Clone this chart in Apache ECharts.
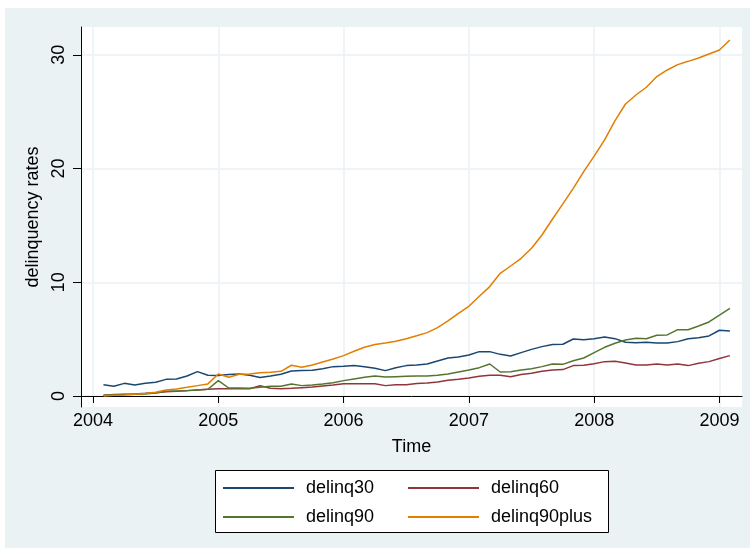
<!DOCTYPE html>
<html>
<head>
<meta charset="utf-8">
<script src="https://cdn.jsdelivr.net/npm/echarts@6/dist/echarts.min.js"></script>
<style>
  html, body { margin: 0; padding: 0; background: #fff; }
  #chart { position: absolute; left: 5px; top: 8px; width: 745px; height: 540px; background: #eaf2f3; }
</style>
</head>
<body>
<div id="chart"></div>
<script>
// monthly series, 2004m2 .. 2009m2
const startYear = 2004;
const startMonth = 2;
const yearTicks = [2004, 2005, 2006, 2007, 2008, 2009];
const rateTicks = [0, 10, 20, 30];

const delinq30 = [
  0.99, 0.85, 1.11, 0.97, 1.11, 1.2, 1.46, 1.49, 1.76, 2.14, 1.82, 1.79,
  1.88, 1.93, 1.82, 1.62, 1.76, 1.91, 2.2, 2.23, 2.26, 2.4, 2.58, 2.61,
  2.67, 2.58, 2.43, 2.23, 2.49, 2.67, 2.73, 2.81, 3.08, 3.34, 3.43, 3.61,
  3.9, 3.9, 3.66, 3.52, 3.81, 4.1, 4.34, 4.52, 4.55, 5.01, 4.95, 5.04,
  5.19, 5.04, 4.72, 4.69, 4.72, 4.66, 4.66, 4.78, 5.04, 5.13, 5.28, 5.78,
  5.72
];
const delinq60 = [
  0.06, 0.12, 0.15, 0.18, 0.23, 0.29, 0.38, 0.41, 0.47, 0.53, 0.59, 0.64,
  0.64, 0.64, 0.64, 0.9, 0.67, 0.64, 0.67, 0.73, 0.79, 0.88, 0.97, 1.08,
  1.08, 1.08, 1.08, 0.91, 0.99, 0.99, 1.1, 1.14, 1.23, 1.38, 1.47, 1.58,
  1.73, 1.82, 1.82, 1.7, 1.88, 2.0, 2.17, 2.29, 2.32, 2.67, 2.7, 2.84,
  3.02, 3.05, 2.9, 2.73, 2.73, 2.81, 2.73, 2.81, 2.67, 2.87, 3.02, 3.3,
  3.55
];
const delinq90 = [
  0.06, 0.09, 0.12, 0.15, 0.18, 0.26, 0.41, 0.44, 0.47, 0.53, 0.59, 1.35,
  0.7, 0.7, 0.67, 0.76, 0.85, 0.85, 1.06, 0.91, 0.97, 1.06, 1.17, 1.35,
  1.5, 1.64, 1.76, 1.67, 1.7, 1.73, 1.76, 1.76, 1.82, 1.93, 2.11, 2.29,
  2.49, 2.81, 2.11, 2.14, 2.29, 2.4, 2.58, 2.81, 2.78, 3.1, 3.34, 3.81,
  4.28, 4.63, 4.93, 5.07, 5.04, 5.34, 5.37, 5.83, 5.83, 6.16, 6.51, 7.12,
  7.71
];
const delinq90plus = [
  0.0, 0.06, 0.09, 0.15, 0.21, 0.32, 0.53, 0.62, 0.76, 0.91, 1.06, 1.93,
  1.64, 1.91, 1.93, 2.05, 2.08, 2.17, 2.7, 2.52, 2.73, 2.99, 3.25, 3.55,
  3.93, 4.28, 4.52, 4.66, 4.81, 5.04, 5.3, 5.57, 6.01, 6.6, 7.27, 7.89,
  8.77, 9.62, 10.79, 11.43, 12.11, 12.99, 14.16, 15.54, 16.89, 18.26, 19.73, 21.1,
  22.52, 24.22, 25.68, 26.47, 27.15, 28.09, 28.67, 29.14, 29.43, 29.73, 30.08, 30.43,
  31.31
];

const months = delinq30.map((_, i) => startYear + (startMonth - 1 + i) / 12);
const pairs = arr => months.map((t, i) => [t, arr[i]]);

const font = 'Liberation Sans, Arial, Helvetica, sans-serif';
const chart = echarts.init(document.getElementById('chart'));

function line(name, data, color) {
  return {
    name: name,
    type: 'line',
    data: pairs(data),
    symbol: 'none',
    lineStyle: { color: color, width: 1.5 },
    itemStyle: { color: color },
    animation: false
  };
}

// legend: two columns inside one white box
function legendCol(names, left) {
  return {
    data: names,
    orient: 'vertical', left: left, top: 470, padding: 0,
    icon: 'rect', itemWidth: 71, itemHeight: 2, itemGap: 9,
    selectedMode: false, z: 10,
    textStyle: { color: '#000', fontSize: 18, lineHeight: 20, fontFamily: font, padding: [0, 0, 0, 7] }
  };
}

const option = {
  animation: false,
  textStyle: { fontFamily: font },
  grid: {
    left: 76, top: 19, width: 661, height: 380,
    show: true, backgroundColor: '#fff', borderWidth: 0
  },
  xAxis: {
    type: 'value',
    min: 2003.904,
    max: 2009.18,
    name: 'Time',
    nameLocation: 'middle',
    nameGap: 31,
    nameTextStyle: { color: '#000', fontSize: 18, fontFamily: font },
    axisLine: { show: true, lineStyle: { color: '#000', width: 1 } },
    axisTick: { show: true, length: 7, lineStyle: { color: '#000' }, customValues: yearTicks },
    axisLabel: {
      color: '#000', fontSize: 18, margin: 5, fontFamily: font,
      customValues: yearTicks, formatter: v => String(v)
    },
    splitLine: { show: true, lineStyle: { color: '#eaf2f3', width: 1.5 } }
  },
  yAxis: {
    type: 'value',
    min: -0.97,
    max: 32.45,
    name: 'delinquency rates',
    nameLocation: 'middle',
    nameGap: 34,
    nameTextStyle: { color: '#000', fontSize: 18, fontFamily: font },
    axisLine: { show: true, lineStyle: { color: '#000', width: 1 } },
    axisTick: { show: true, length: 8, lineStyle: { color: '#000' }, customValues: rateTicks },
    axisLabel: {
      color: '#000', fontSize: 18, rotate: 90, margin: 13, fontFamily: font,
      customValues: rateTicks, formatter: v => String(v)
    },
    splitLine: { show: true, lineStyle: { color: '#eaf2f3', width: 1.5 } }
  },
  graphic: [{
    type: 'rect',
    left: 210, top: 462,
    shape: { width: 393, height: 62 },
    style: { fill: '#fff', stroke: '#000', lineWidth: 1 },
    z: 0
  }],
  legend: [
    legendCol(['delinq30', 'delinq90'], 218),
    legendCol(['delinq60', 'delinq90plus'], 403)
  ],
  series: [
    line('delinq30', delinq30, '#1a476f'),
    line('delinq60', delinq60, '#90353b'),
    line('delinq90', delinq90, '#55752f'),
    line('delinq90plus', delinq90plus, '#e37e00')
  ]
};

chart.setOption(option);
window.addEventListener('resize', function () {
  chart.resize();
});
</script>
</body>
</html>
